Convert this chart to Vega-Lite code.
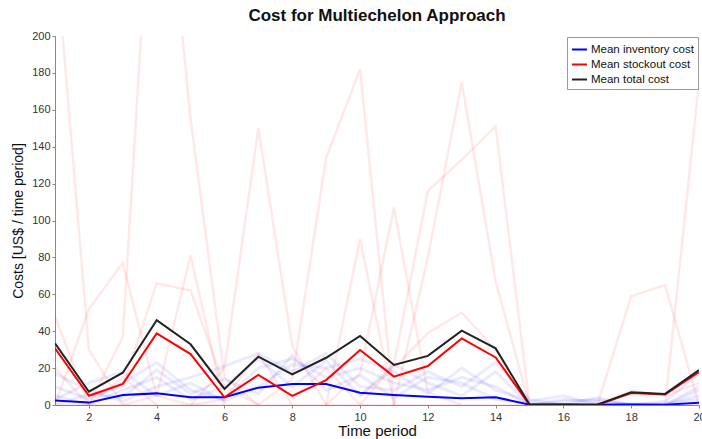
{
  "$schema": "https://vega.github.io/schema/vega-lite/v6.json",
  "autosize": {"type": "none"},
  "padding": {"left": 55, "top": 36, "right": 3, "bottom": 34},
  "width": 644,
  "height": 369,
  "background": "white",
  "config": {
    "view": {"stroke": null},
    "font": "Liberation Sans",
    "axis": {"domainColor": "#888", "tickColor": "#888", "labelColor": "#333", "titleColor": "#111", "labelFont": "Liberation Sans", "titleFont": "Liberation Sans", "titleFontWeight": "normal", "grid": false}
  },
  "title": {"text": "Cost for Multiechelon Approach", "fontSize": 17, "fontWeight": "bold", "font": "Liberation Sans", "color": "#111", "anchor": "middle", "offset": 5},
  "datasets": {
    "mean": [
      {"series": "Mean inventory cost", "t": 1, "cost": 2.4}, {"series": "Mean inventory cost", "t": 2, "cost": 1.3}, {"series": "Mean inventory cost", "t": 3, "cost": 5.4}, {"series": "Mean inventory cost", "t": 4, "cost": 6.3}, {"series": "Mean inventory cost", "t": 5, "cost": 4.2}, {"series": "Mean inventory cost", "t": 6, "cost": 4.2}, {"series": "Mean inventory cost", "t": 7, "cost": 9.4}, {"series": "Mean inventory cost", "t": 8, "cost": 11.4}, {"series": "Mean inventory cost", "t": 9, "cost": 11.4}, {"series": "Mean inventory cost", "t": 10, "cost": 6.7}, {"series": "Mean inventory cost", "t": 11, "cost": 5.4}, {"series": "Mean inventory cost", "t": 12, "cost": 4.5}, {"series": "Mean inventory cost", "t": 13, "cost": 3.6}, {"series": "Mean inventory cost", "t": 14, "cost": 4.2}, {"series": "Mean inventory cost", "t": 15, "cost": 0.2}, {"series": "Mean inventory cost", "t": 16, "cost": 0.3}, {"series": "Mean inventory cost", "t": 17, "cost": 0.2}, {"series": "Mean inventory cost", "t": 18, "cost": 0.3}, {"series": "Mean inventory cost", "t": 19, "cost": 0.2}, {"series": "Mean inventory cost", "t": 20, "cost": 1.2},
      {"series": "Mean stockout cost", "t": 1, "cost": 30.7}, {"series": "Mean stockout cost", "t": 2, "cost": 5.0}, {"series": "Mean stockout cost", "t": 3, "cost": 11.4}, {"series": "Mean stockout cost", "t": 4, "cost": 38.8}, {"series": "Mean stockout cost", "t": 5, "cost": 27.6}, {"series": "Mean stockout cost", "t": 6, "cost": 4.2}, {"series": "Mean stockout cost", "t": 7, "cost": 16.3}, {"series": "Mean stockout cost", "t": 8, "cost": 4.9}, {"series": "Mean stockout cost", "t": 9, "cost": 13.5}, {"series": "Mean stockout cost", "t": 10, "cost": 29.8}, {"series": "Mean stockout cost", "t": 11, "cost": 15.4}, {"series": "Mean stockout cost", "t": 12, "cost": 21.1}, {"series": "Mean stockout cost", "t": 13, "cost": 36.1}, {"series": "Mean stockout cost", "t": 14, "cost": 25.8}, {"series": "Mean stockout cost", "t": 15, "cost": 0}, {"series": "Mean stockout cost", "t": 16, "cost": 0}, {"series": "Mean stockout cost", "t": 17, "cost": 0}, {"series": "Mean stockout cost", "t": 18, "cost": 6.5}, {"series": "Mean stockout cost", "t": 19, "cost": 5.7}, {"series": "Mean stockout cost", "t": 20, "cost": 17.8},
      {"series": "Mean total cost", "t": 1, "cost": 33.4}, {"series": "Mean total cost", "t": 2, "cost": 7.2}, {"series": "Mean total cost", "t": 3, "cost": 17.5}, {"series": "Mean total cost", "t": 4, "cost": 46.0}, {"series": "Mean total cost", "t": 5, "cost": 32.9}, {"series": "Mean total cost", "t": 6, "cost": 8.7}, {"series": "Mean total cost", "t": 7, "cost": 26.2}, {"series": "Mean total cost", "t": 8, "cost": 16.6}, {"series": "Mean total cost", "t": 9, "cost": 25.6}, {"series": "Mean total cost", "t": 10, "cost": 37.4}, {"series": "Mean total cost", "t": 11, "cost": 21.7}, {"series": "Mean total cost", "t": 12, "cost": 26.6}, {"series": "Mean total cost", "t": 13, "cost": 40.3}, {"series": "Mean total cost", "t": 14, "cost": 30.7}, {"series": "Mean total cost", "t": 15, "cost": 0.3}, {"series": "Mean total cost", "t": 16, "cost": 0.3}, {"series": "Mean total cost", "t": 17, "cost": 0.2}, {"series": "Mean total cost", "t": 18, "cost": 6.9}, {"series": "Mean total cost", "t": 19, "cost": 6.0}, {"series": "Mean total cost", "t": 20, "cost": 19.0}
    ],
    "stock": [
      {"run": "r0", "t": 1, "cost": 0}, {"run": "r0", "t": 20, "cost": 0},
      {"run": "r1", "t": 1, "cost": 250}, {"run": "r1", "t": 2, "cost": 30}, {"run": "r1", "t": 3, "cost": 0},
      {"run": "r2", "t": 1, "cost": 48}, {"run": "r2", "t": 2, "cost": 0},
      {"run": "r3", "t": 1, "cost": 0}, {"run": "r3", "t": 2, "cost": 52}, {"run": "r3", "t": 3, "cost": 77}, {"run": "r3", "t": 4, "cost": 5}, {"run": "r3", "t": 5, "cost": 0},
      {"run": "r4", "t": 2, "cost": 0}, {"run": "r4", "t": 3, "cost": 37}, {"run": "r4", "t": 4, "cost": 340}, {"run": "r4", "t": 5, "cost": 155}, {"run": "r4", "t": 6, "cost": 15}, {"run": "r4", "t": 7, "cost": 0},
      {"run": "r5", "t": 2, "cost": 5}, {"run": "r5", "t": 3, "cost": 10}, {"run": "r5", "t": 4, "cost": 66}, {"run": "r5", "t": 5, "cost": 62}, {"run": "r5", "t": 6, "cost": 10}, {"run": "r5", "t": 7, "cost": 0},
      {"run": "r6", "t": 3, "cost": 0}, {"run": "r6", "t": 4, "cost": 5}, {"run": "r6", "t": 5, "cost": 81}, {"run": "r6", "t": 6, "cost": 0},
      {"run": "r7", "t": 5, "cost": 0}, {"run": "r7", "t": 6, "cost": 20}, {"run": "r7", "t": 7, "cost": 150}, {"run": "r7", "t": 8, "cost": 32}, {"run": "r7", "t": 9, "cost": 0},
      {"run": "r8", "t": 7, "cost": 0}, {"run": "r8", "t": 8, "cost": 14}, {"run": "r8", "t": 9, "cost": 134}, {"run": "r8", "t": 10, "cost": 182}, {"run": "r8", "t": 11, "cost": 0},
      {"run": "r9", "t": 9, "cost": 0}, {"run": "r9", "t": 10, "cost": 90}, {"run": "r9", "t": 11, "cost": 0},
      {"run": "r10", "t": 9, "cost": 0}, {"run": "r10", "t": 10, "cost": 17}, {"run": "r10", "t": 11, "cost": 107}, {"run": "r10", "t": 12, "cost": 7}, {"run": "r10", "t": 13, "cost": 0},
      {"run": "r11", "t": 10, "cost": 0}, {"run": "r11", "t": 11, "cost": 22}, {"run": "r11", "t": 12, "cost": 116}, {"run": "r11", "t": 13, "cost": 133}, {"run": "r11", "t": 14, "cost": 151}, {"run": "r11", "t": 15, "cost": 0},
      {"run": "r12", "t": 11, "cost": 0}, {"run": "r12", "t": 12, "cost": 80}, {"run": "r12", "t": 13, "cost": 175}, {"run": "r12", "t": 14, "cost": 67}, {"run": "r12", "t": 15, "cost": 0},
      {"run": "r13", "t": 10, "cost": 5}, {"run": "r13", "t": 11, "cost": 20}, {"run": "r13", "t": 12, "cost": 39}, {"run": "r13", "t": 13, "cost": 50}, {"run": "r13", "t": 14, "cost": 30}, {"run": "r13", "t": 15, "cost": 0},
      {"run": "r14", "t": 17, "cost": 0}, {"run": "r14", "t": 18, "cost": 59}, {"run": "r14", "t": 19, "cost": 65}, {"run": "r14", "t": 20, "cost": 0},
      {"run": "r15", "t": 19, "cost": 0}, {"run": "r15", "t": 20, "cost": 175},
      {"run": "r16", "t": 5, "cost": 0}, {"run": "r16", "t": 6, "cost": 3}, {"run": "r16", "t": 7, "cost": 28}, {"run": "r16", "t": 8, "cost": 0},
      {"run": "r17", "t": 8, "cost": 3}, {"run": "r17", "t": 9, "cost": 20}, {"run": "r17", "t": 10, "cost": 0},
      {"run": "r18", "t": 1, "cost": 20}, {"run": "r18", "t": 2, "cost": 0}, {"run": "r18", "t": 3, "cost": 15}, {"run": "r18", "t": 4, "cost": 0},
      {"run": "r19", "t": 17, "cost": 0}, {"run": "r19", "t": 18, "cost": 8}, {"run": "r19", "t": 19, "cost": 5}, {"run": "r19", "t": 20, "cost": 12}
    ],
    "inv": [
      {"run": "b1", "t": 1, "cost": 10}, {"run": "b1", "t": 2, "cost": 3}, {"run": "b1", "t": 3, "cost": 12}, {"run": "b1", "t": 4, "cost": 23}, {"run": "b1", "t": 5, "cost": 8}, {"run": "b1", "t": 6, "cost": 3}, {"run": "b1", "t": 7, "cost": 20}, {"run": "b1", "t": 8, "cost": 25}, {"run": "b1", "t": 9, "cost": 15}, {"run": "b1", "t": 10, "cost": 20}, {"run": "b1", "t": 11, "cost": 12}, {"run": "b1", "t": 12, "cost": 8}, {"run": "b1", "t": 13, "cost": 15}, {"run": "b1", "t": 14, "cost": 10}, {"run": "b1", "t": 15, "cost": 0}, {"run": "b1", "t": 16, "cost": 3}, {"run": "b1", "t": 17, "cost": 2}, {"run": "b1", "t": 18, "cost": 0}, {"run": "b1", "t": 19, "cost": 0}, {"run": "b1", "t": 20, "cost": 8},
      {"run": "b2", "t": 1, "cost": 17}, {"run": "b2", "t": 2, "cost": 8}, {"run": "b2", "t": 3, "cost": 2}, {"run": "b2", "t": 4, "cost": 10}, {"run": "b2", "t": 5, "cost": 15}, {"run": "b2", "t": 6, "cost": 21}, {"run": "b2", "t": 7, "cost": 28}, {"run": "b2", "t": 8, "cost": 18}, {"run": "b2", "t": 9, "cost": 28}, {"run": "b2", "t": 10, "cost": 10}, {"run": "b2", "t": 11, "cost": 8}, {"run": "b2", "t": 12, "cost": 18}, {"run": "b2", "t": 13, "cost": 10}, {"run": "b2", "t": 14, "cost": 23}, {"run": "b2", "t": 15, "cost": 3}, {"run": "b2", "t": 16, "cost": 0}, {"run": "b2", "t": 17, "cost": 4}, {"run": "b2", "t": 18, "cost": 0}, {"run": "b2", "t": 19, "cost": 2}, {"run": "b2", "t": 20, "cost": 17},
      {"run": "b3", "t": 1, "cost": 3}, {"run": "b3", "t": 2, "cost": 12}, {"run": "b3", "t": 3, "cost": 18}, {"run": "b3", "t": 4, "cost": 5}, {"run": "b3", "t": 5, "cost": 12}, {"run": "b3", "t": 6, "cost": 2}, {"run": "b3", "t": 7, "cost": 10}, {"run": "b3", "t": 8, "cost": 22}, {"run": "b3", "t": 9, "cost": 20}, {"run": "b3", "t": 10, "cost": 25}, {"run": "b3", "t": 11, "cost": 18}, {"run": "b3", "t": 12, "cost": 6}, {"run": "b3", "t": 13, "cost": 20}, {"run": "b3", "t": 14, "cost": 8}, {"run": "b3", "t": 15, "cost": 2}, {"run": "b3", "t": 16, "cost": 5}, {"run": "b3", "t": 17, "cost": 0}, {"run": "b3", "t": 18, "cost": 1}, {"run": "b3", "t": 19, "cost": 0}, {"run": "b3", "t": 20, "cost": 5},
      {"run": "b4", "t": 1, "cost": 5}, {"run": "b4", "t": 2, "cost": 0}, {"run": "b4", "t": 3, "cost": 8}, {"run": "b4", "t": 4, "cost": 15}, {"run": "b4", "t": 5, "cost": 3}, {"run": "b4", "t": 6, "cost": 10}, {"run": "b4", "t": 7, "cost": 25}, {"run": "b4", "t": 8, "cost": 10}, {"run": "b4", "t": 9, "cost": 24}, {"run": "b4", "t": 10, "cost": 5}, {"run": "b4", "t": 11, "cost": 22}, {"run": "b4", "t": 12, "cost": 12}, {"run": "b4", "t": 13, "cost": 5}, {"run": "b4", "t": 14, "cost": 18}, {"run": "b4", "t": 15, "cost": 0}, {"run": "b4", "t": 16, "cost": 2}, {"run": "b4", "t": 17, "cost": 3}, {"run": "b4", "t": 18, "cost": 0}, {"run": "b4", "t": 19, "cost": 0}, {"run": "b4", "t": 20, "cost": 10},
      {"run": "b5", "t": 1, "cost": 0}, {"run": "b5", "t": 2, "cost": 6}, {"run": "b5", "t": 3, "cost": 4}, {"run": "b5", "t": 4, "cost": 19}, {"run": "b5", "t": 5, "cost": 6}, {"run": "b5", "t": 6, "cost": 14}, {"run": "b5", "t": 7, "cost": 6}, {"run": "b5", "t": 8, "cost": 27}, {"run": "b5", "t": 9, "cost": 8}, {"run": "b5", "t": 10, "cost": 16}, {"run": "b5", "t": 11, "cost": 4}, {"run": "b5", "t": 12, "cost": 15}, {"run": "b5", "t": 13, "cost": 12}, {"run": "b5", "t": 14, "cost": 3}, {"run": "b5", "t": 15, "cost": 1}, {"run": "b5", "t": 16, "cost": 0}, {"run": "b5", "t": 17, "cost": 1}, {"run": "b5", "t": 18, "cost": 0}, {"run": "b5", "t": 19, "cost": 1}, {"run": "b5", "t": 20, "cost": 3}
    ]
  },
  "encoding": {
    "x": {"field": "t", "type": "quantitative", "scale": {"domain": [1, 20], "nice": false, "zero": false},
      "axis": {"title": "Time period", "values": [2, 4, 6, 8, 10, 12, 14, 16, 18, 20], "labelFontSize": 11, "titleFontSize": 15, "tickSize": 3, "labelPadding": 3, "titlePadding": 1, "labelFlush": false}},
    "y": {"field": "cost", "type": "quantitative", "scale": {"domain": [0, 200], "nice": false},
      "axis": {"title": "Costs [US$ / time period]", "values": [0, 20, 40, 60, 80, 100, 120, 140, 160, 180, 200], "labelFontSize": 11, "titleFontSize": 14, "tickSize": 3, "labelPadding": 2, "titlePadding": 6}}
  },
  "layer": [
    {"data": {"name": "stock"}, "mark": {"type": "line", "clip": true, "color": "#ff0000", "opacity": 0.09, "strokeWidth": 2.5},
      "encoding": {"detail": {"field": "run"}}},
    {"data": {"name": "inv"}, "mark": {"type": "line", "clip": true, "color": "#0000ff", "opacity": 0.08, "strokeWidth": 3},
      "encoding": {"detail": {"field": "run"}}},
    {"data": {"name": "mean"}, "mark": {"type": "line", "clip": true, "strokeWidth": 2},
      "encoding": {"color": {"field": "series", "type": "nominal",
        "scale": {"domain": ["Mean inventory cost", "Mean stockout cost", "Mean total cost"], "range": ["#0000ff", "#ff0000", "#222222"]},
        "legend": {"title": null, "orient": "top-right", "offset": 1, "padding": 4, "strokeColor": "#999", "fillColor": "white",
          "symbolType": "stroke", "symbolSize": 225, "symbolStrokeWidth": 2, "labelFontSize": 11.5, "labelColor": "#111", "labelFont": "Liberation Sans", "rowPadding": 1, "labelOffset": 3}}}}
  ]
}
